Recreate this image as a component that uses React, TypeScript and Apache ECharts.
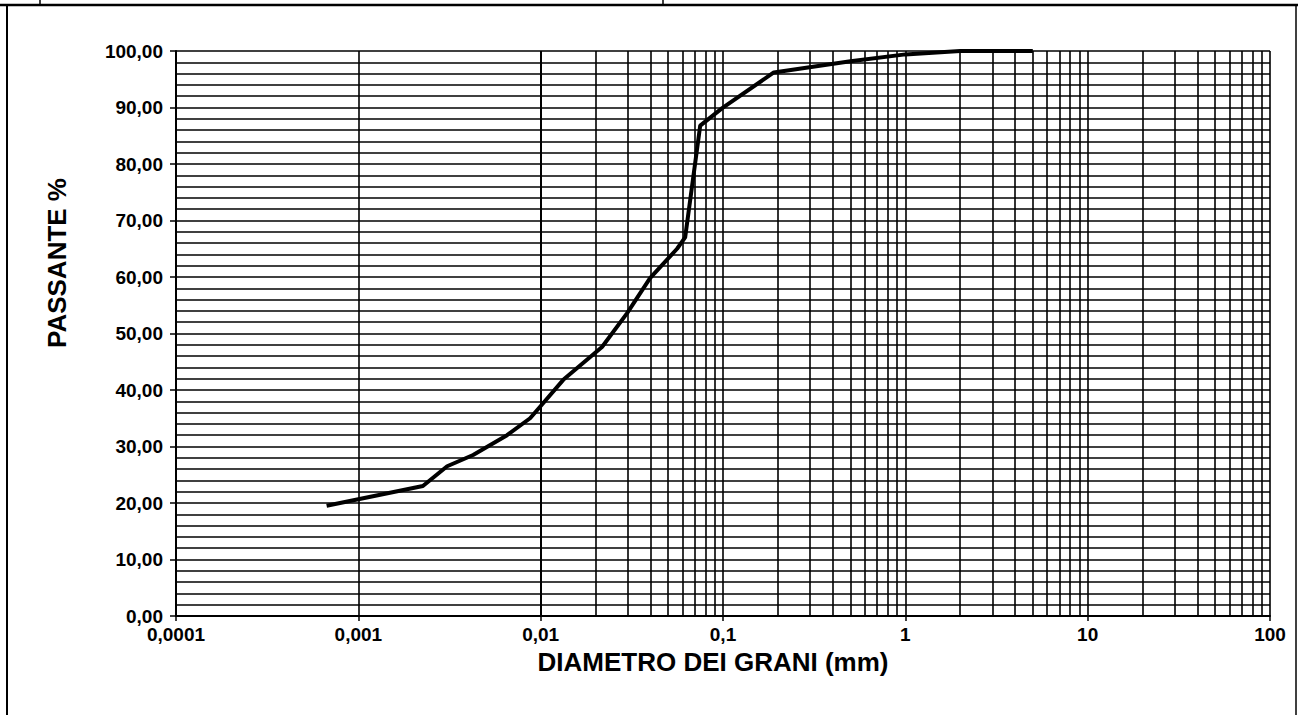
import React, { useEffect, useRef } from "react";
import * as echarts from "echarts";

// Grain-size distribution curve (diameter in mm, % passing)
const diameters = [0.00067, 0.00226, 0.00307, 0.00426, 0.00654, 0.00875, 0.0099, 0.0133, 0.0217, 0.0298, 0.0398, 0.056, 0.062, 0.075, 0.099, 0.19, 0.5, 1.0, 2.0, 5.0];
const passing = [19.5, 23.0, 26.5, 28.5, 32.0, 35.0, 37.0, 41.8, 47.6, 53.6, 59.8, 65.0, 67.0, 86.8, 89.9, 96.2, 98.2, 99.4, 100.0, 100.0];

const xTickLabels = ["0,0001", "0,001", "0,01", "0,1", "1", "10", "100"];
const yTickLabels = ["0,00", "10,00", "20,00", "30,00", "40,00", "50,00", "60,00", "70,00", "80,00", "90,00", "100,00"];
const xTitle = "DIAMETRO DEI GRANI (mm)";
const yTitle = "PASSANTE %";
const decadeExponents = [-4, -3, -2, -1, 0, 1];
const minorMultipliers = [2, 3, 4, 5, 6, 7, 8, 9];

export default function App() {
  const ref = useRef<HTMLDivElement>(null);
  useEffect(() => {
    if (!ref.current) return;
    const chart = echarts.init(ref.current, undefined, { renderer: "svg" });
    const minorX: number[] = [];
    decadeExponents.forEach((e) => minorMultipliers.forEach((m) => minorX.push(parseFloat((m * Math.pow(10, e)).toPrecision(3)))));
    const gridLine = { color: "#000", width: 1.6, type: "solid" as const };
    const font = "'Liberation Sans', Arial, sans-serif";
    chart.setOption({
      animation: false,
      backgroundColor: "#fff",
      textStyle: { fontFamily: font },
      grid: { left: 176, right: 28, top: 51, bottom: 99, containLabel: false },
      xAxis: {
        type: "log",
        logBase: 10,
        min: 0.0001,
        max: 100,
        name: xTitle,
        nameLocation: "middle",
        nameGap: 31,
        nameTextStyle: { fontFamily: font, fontWeight: "bold", fontSize: 26, color: "#000", padding: [0, 20, 0, 0] },
        axisLine: { show: true, lineStyle: { color: "#000", width: 2 } },
        axisTick: { show: true, length: 5, lineStyle: { color: "#000", width: 1.5 } },
        axisLabel: {
          fontFamily: font,
          fontWeight: "bold",
          fontSize: 19,
          color: "#000",
          margin: 9,
          formatter: (v: number) => xTickLabels[Math.round(Math.log10(v)) + 4] ?? "",
        },
        splitLine: { show: true, lineStyle: gridLine },
      },
      yAxis: {
        type: "value",
        min: 0,
        max: 100,
        interval: 10,
        axisLine: { show: true, lineStyle: { color: "#000", width: 2 } },
        axisTick: { show: true, length: 6, lineStyle: { color: "#000", width: 1.5 } },
        axisLabel: {
          fontFamily: font,
          fontWeight: "bold",
          fontSize: 19,
          color: "#000",
          margin: 13,
          formatter: (v: number) => yTickLabels[Math.round(v / 10)] ?? "",
        },
        splitLine: { show: true, lineStyle: gridLine },
        minorTick: { show: false, splitNumber: 5 },
        minorSplitLine: { show: true, lineStyle: gridLine },
      },
      graphic: [
        { type: "line", shape: { x1: 0, y1: 5, x2: 1298, y2: 5 }, style: { stroke: "#000", lineWidth: 2.5 } },
        { type: "line", shape: { x1: 7, y1: 5, x2: 7, y2: 715 }, style: { stroke: "#000", lineWidth: 2 } },
        { type: "line", shape: { x1: 1296, y1: 5, x2: 1296, y2: 715 }, style: { stroke: "#000", lineWidth: 1.5 } },
        { type: "line", shape: { x1: 40, y1: 0, x2: 40, y2: 5 }, style: { stroke: "#000", lineWidth: 1.5 } },
        { type: "line", shape: { x1: 663, y1: 0, x2: 663, y2: 5 }, style: { stroke: "#000", lineWidth: 1.5 } },
        {
          type: "text",
          x: 57,
          y: 263,
          rotation: Math.PI / 2,
          style: {
            text: yTitle,
            fontFamily: font,
            fontWeight: "bold",
            fontSize: 26,
            fill: "#000",
            align: "center",
            verticalAlign: "middle",
          },
        },
      ],
      series: [
        {
          type: "line",
          data: [],
          silent: true,
          z: 1,
          markLine: {
            silent: true,
            symbol: ["none", "none"],
            label: { show: false },
            lineStyle: { color: "#000", width: 1.6, type: "solid" },
            data: minorX.map((v) => ({ xAxis: v })),
          },
        },
        {
          type: "line",
          z: 5,
          data: diameters.map((d, i) => [d, passing[i]]),
          showSymbol: false,
          symbol: "none",
          lineStyle: { color: "#000", width: 4 },
        },
      ],
    });
    return () => chart.dispose();
  }, []);
  return <div ref={ref} style={{ position: "fixed", left: 0, top: 0, width: 1298, height: 715 }} />;
}
